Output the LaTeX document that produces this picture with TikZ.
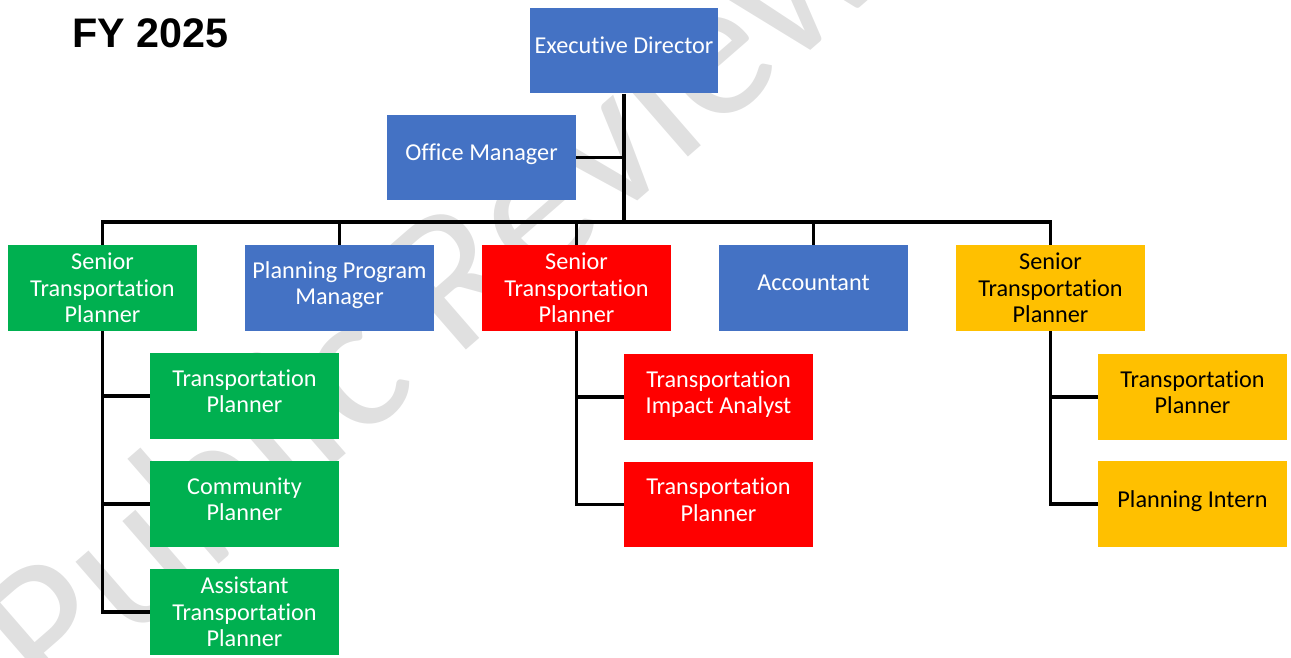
\documentclass[tikz,border=0pt]{standalone}
\usepackage{fontspec}
\setmainfont{Carlito}[Ligatures=NoCommon]
\newfontfamily\headfont{Liberation Sans}
\usepackage{tikz}
\usetikzlibrary{positioning,calc}

% Office colours of the four groups
\definecolor{staffblue}{HTML}{4472C4}
\definecolor{teamgreen}{HTML}{00B050}
\definecolor{teamred}{HTML}{FF0000}
\definecolor{teamyellow}{HTML}{FFC000}

\tikzset{
	post/.style={draw=none, minimum width=3.78cm, minimum height=1.72cm,
		inner sep=0pt, align=center, text=white,
		font=\fontsize{13.8}{15}\selectfont},
	% short titles sit a little above the middle of their box
	lifted/.style={text depth=0.2cm},
	link/.style={line width=1.9pt, line join=miter}
}

\begin{document}
\begin{tikzpicture}[x=0.02cm, y=-0.02cm]
\useasboundingbox (0,0) rectangle (1291,658);

% Faint stamp across the page, behind the chart
\node[rotate=41, text=black!12, font=\fontsize{114}{114}\selectfont] (stamp) at (428,292) {Public Review};

\node[font=\headfont\bfseries\fontsize{23.5}{24}\selectfont, anchor=west] (year) at (66,33) {FY 2025};

% Top of the chart
\node[post, lifted, fill=staffblue] (director) at (624,50.5) {Executive Director};
\node[post, lifted, fill=staffblue] (office) at (481.5,157.5) {Office Manager};

% Second row
\node[post, fill=teamgreen] (seniorgreen) at (102.5,288) {Senior\\Transportation\\Planner};
\node[post, lifted, fill=staffblue] (program) at (339.5,288) {Planning Program\\Manager};
\node[post, fill=teamred] (seniorred) at (576.5,288) {Senior\\Transportation\\Planner};
\node[post, lifted, fill=staffblue] (accountant) at (813.5,288) {Accountant};
\node[post, fill=teamyellow, text=black] (senioryellow) at (1050.5,288) {Senior\\Transportation\\Planner};

% Green team
\node[post, lifted, fill=teamgreen] (greenplanner) at (244.5,396) {Transportation\\Planner};
\node[post, lifted, fill=teamgreen] (community) at (244.5,504) {Community\\Planner};
\node[post, fill=teamgreen] (assistant) at (244.5,612) {Assistant\\Transportation\\Planner};

% Red team
\node[post, lifted, fill=teamred] (impact) at (718.5,397) {Transportation\\Impact Analyst};
\node[post, lifted, fill=teamred] (redplanner) at (718.5,504.5) {Transportation\\Planner};

% Yellow team
\node[post, lifted, fill=teamyellow, text=black] (yellowplanner) at (1192.5,397) {Transportation\\Planner};
\node[post, lifted, fill=teamyellow, text=black] (intern) at (1192.5,504) {Planning Intern};

% Lines of report
\coordinate (hub) at (624,222);
\draw[link] (director.south) -- (hub);
\draw[link] (office.east) -- (office.east -| director.south);
\foreach \n in {seniorgreen, program, seniorred, accountant, senioryellow}
	\draw[link] (hub) -| (\n.north);
\foreach \n in {greenplanner, community, assistant}
	\draw[link] (seniorgreen.south) |- (\n.west);
\foreach \n in {impact, redplanner}
	\draw[link] (seniorred.south) |- (\n.west);
\foreach \n in {yellowplanner, intern}
	\draw[link] (senioryellow.south) |- (\n.west);
\end{tikzpicture}
\end{document}
